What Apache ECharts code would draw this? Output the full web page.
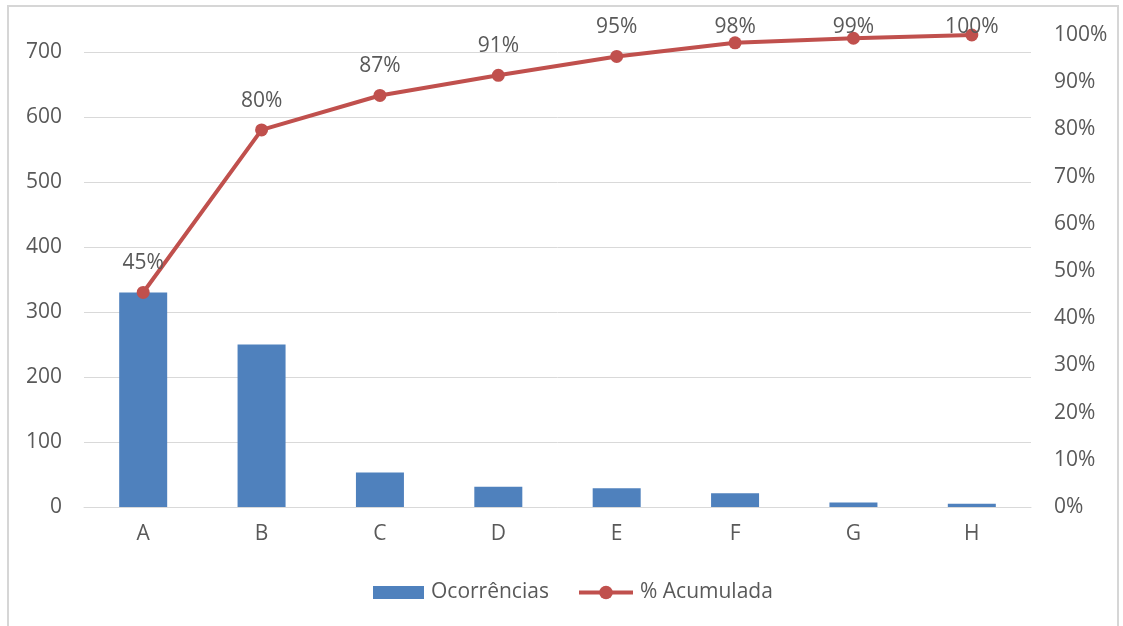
<!DOCTYPE html>
<html>
<head>
<meta charset="utf-8">
<script src="https://cdn.jsdelivr.net/npm/echarts@6/dist/echarts.min.js"></script>
<style>
  html, body { margin: 0; padding: 0; background: #fff; }
  #chart { width: 1123px; height: 626px; }
</style>
</head>
<body>
<div id="chart"></div>
<script>
// Pareto data: occurrences per category
var categories = ['A', 'B', 'C', 'D', 'E', 'F', 'G', 'H'];
var occurrences = [330, 250, 53, 31, 29, 21, 7, 5];
var seriesNames = ['Ocorrências', '% Acumulada'];

// cumulative share of the total, per category
var total = occurrences.reduce(function (a, b) { return a + b; }, 0);
var running = 0;
var cumulative = occurrences.map(function (v) {
  running += v;
  return running / total;
});

var textColor = '#595959';
var gridColor = '#d9d9d9';
var barColor = '#4f81bd';
var lineColor = '#c0504d';
var fontFamily = '"Open Sans", sans-serif';
var fs = 21;

var legendText = { fontSize: fs, color: textColor, fontFamily: fontFamily, padding: [0, 0, 0, 2] };

var chart = echarts.init(document.getElementById('chart'), null, { renderer: 'canvas' });

chart.setOption({
  animation: false,
  textStyle: { fontFamily: fontFamily, color: textColor },
  graphic: [{
    type: 'rect',
    shape: { x: 8, y: 6, width: 1110, height: 640 },
    style: { fill: 'none', stroke: '#d6d6d6', lineWidth: 2 },
    silent: true
  }],
  grid: { left: 84, right: 92, top: 35, bottom: 119, containLabel: false },
  legend: [{
    left: 373,
    top: 582,
    padding: 0,
    itemWidth: 51,
    itemHeight: 13,
    icon: 'rect',
    textStyle: legendText,
    data: [seriesNames[0]]
  }, {
    left: 577,
    top: 582,
    padding: 0,
    itemWidth: 54,
    itemHeight: 17,
    lineStyle: { width: 4, color: lineColor },
    textStyle: legendText,
    data: [seriesNames[1]]
  }],
  xAxis: {
    type: 'category',
    data: categories,
    axisTick: { show: false },
    axisLine: { show: true, lineStyle: { color: gridColor, width: 1 } },
    axisLabel: { margin: 17, fontSize: fs, color: textColor, fontFamily: fontFamily }
  },
  yAxis: [{
    type: 'value',
    min: 0,
    max: total,
    interval: 100,
    axisLine: { show: false },
    axisTick: { show: false },
    axisLabel: { margin: 22, fontSize: fs, color: textColor, fontFamily: fontFamily, showMaxLabel: false },
    splitLine: { show: true, showMaxLine: false, lineStyle: { color: gridColor, width: 1 } }
  }, {
    type: 'value',
    min: 0,
    max: 1,
    interval: 0.1,
    position: 'right',
    axisLine: { show: false },
    axisTick: { show: false },
    splitLine: { show: false },
    axisLabel: {
      margin: 23, fontSize: fs, color: textColor, fontFamily: fontFamily,
      formatter: function (v) { return Math.round(v * 100) + '%'; }
    }
  }],
  series: [{
    name: seriesNames[0],
    type: 'bar',
    data: occurrences,
    barWidth: 48,
    itemStyle: { color: barColor },
    yAxisIndex: 0
  }, {
    name: seriesNames[1],
    type: 'line',
    data: cumulative,
    yAxisIndex: 1,
    symbol: 'circle',
    symbolSize: 13,
    lineStyle: { color: lineColor, width: 4 },
    itemStyle: { color: lineColor },
    label: {
      show: true,
      position: 'top',
      distance: 12,
      fontSize: fs,
      color: textColor,
      fontFamily: fontFamily,
      formatter: function (p) { return Math.round(p.value * 100) + '%'; }
    },
    // keep labels of the top points inside the chart frame
    labelLayout: function (p) {
      var minTop = 17;
      if (p.labelRect.y < minTop) {
        return { dy: minTop - p.labelRect.y };
      }
      return {};
    }
  }]
});
</script>
</body>
</html>
